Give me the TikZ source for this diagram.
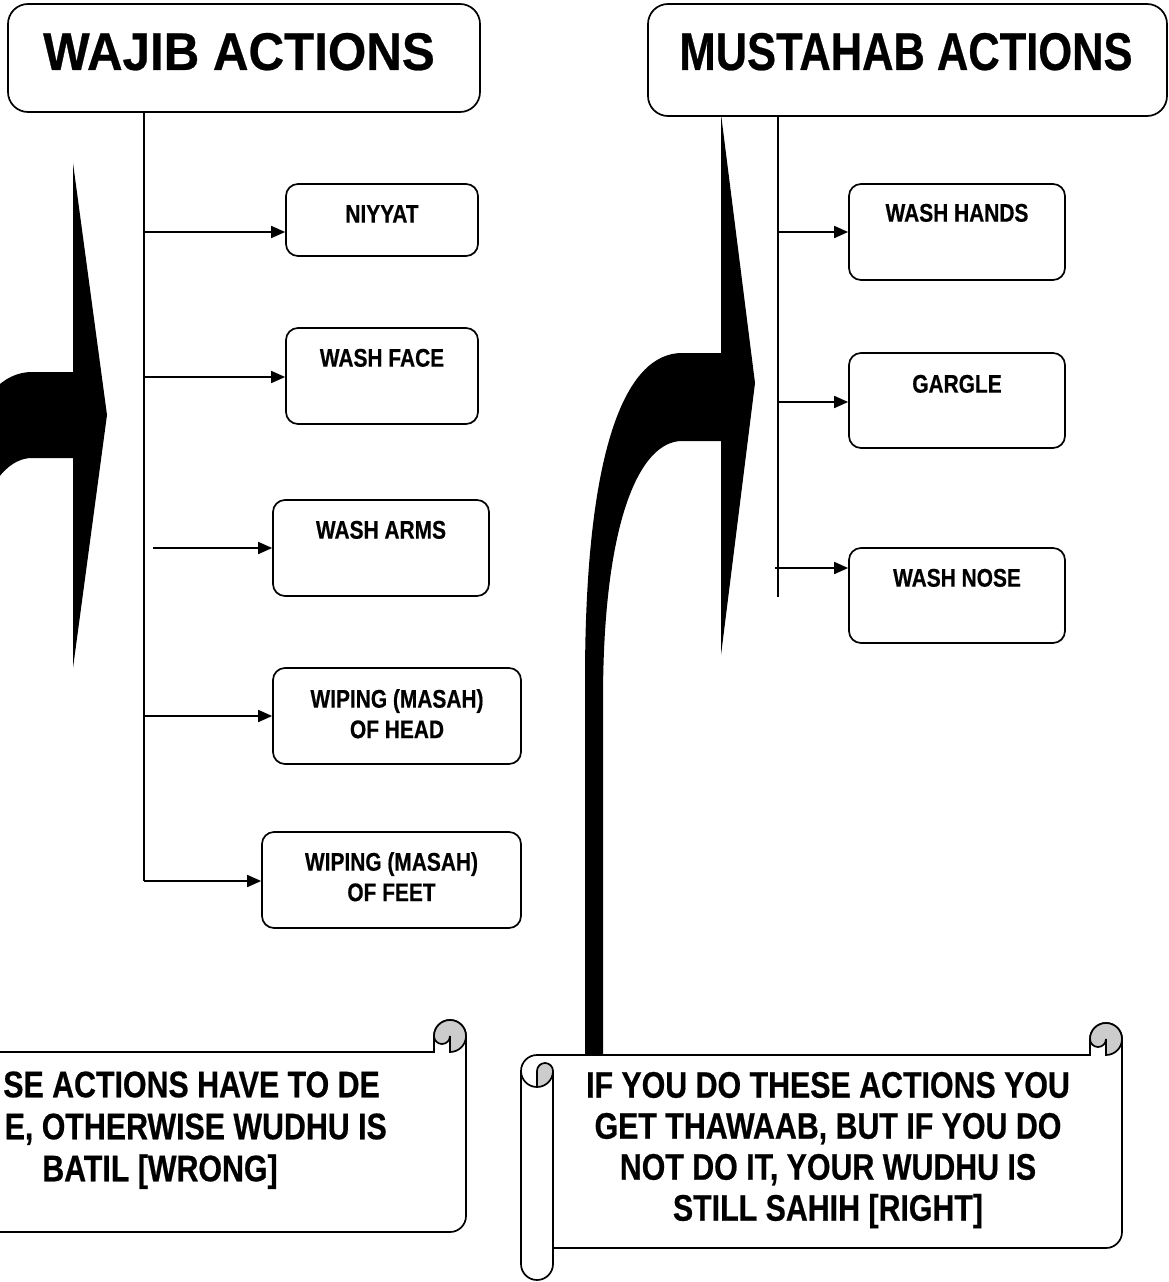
\documentclass[tikz,border=0pt]{standalone}
\usepackage{fontspec}
\setmainfont{Liberation Sans}[FakeStretch=0.82, BoldFeatures={FakeBold=0.5}]
\newfontfamily\widefont{Liberation Sans}[FakeStretch=0.93, BoldFeatures={FakeBold=0.5}]
\usetikzlibrary{arrows.meta,calc}
\begin{document}
\begin{tikzpicture}[x=1pt,y=1pt,
  line/.style={line width=1.7pt, draw=black},
  arr/.style={line width=1.7pt, -{Triangle[length=14pt,width=12pt]}},
  titlebox/.style={draw, line width=1.7pt, rounded corners=20pt, fill=white, inner sep=0pt},
  actbox/.style={draw, line width=1.7pt, rounded corners=12pt, fill=white, inner sep=0pt},
  titletext/.style={font=\fontsize{53}{60}\selectfont\bfseries, inner sep=0pt, text height=37.9pt, text depth=0pt},
  acttext/.style={font=\fontsize{25.5}{30.5}\selectfont\bfseries, inner sep=0pt, text height=18.3pt, anchor=north, align=flush center},
  scrolltext/.style={font=\fontsize{37}{41}\selectfont\bfseries, inner sep=0pt, text height=26.5pt, text depth=0pt},
  brace/.style={fill=black},
  scroll/.style={draw, line width=1.7pt, fill=white},
  curl/.style={draw, line width=1.7pt, fill=black!20}
]
\useasboundingbox (0,0) rectangle (1169,-1282);
\fill[white] (0,0) rectangle (1169,-1282);
\clip (0,0) rectangle (1169,-1282);

% ---- braces
\fill[brace] (73,-163) -- (107,-415) -- (73,-668) -- (73,-458) -- (32,-458)
  .. controls (-10,-458) and (-47,-539) .. (-47,-719) -- (-47,-950) -- (-65,-950) -- (-65,-699)
  .. controls (-65,-469) and (-25,-372) .. (32,-372) -- (73,-372) -- cycle;
\fill[brace] (721,-114) -- (755,-383) -- (721,-655) -- (721,-441) -- (682,-441)
  .. controls (640,-441) and (603,-520) .. (603,-700) -- (603,-1060) -- (585,-1060) -- (585,-680)
  .. controls (585,-450) and (625,-353) .. (682,-353) -- (721,-353) -- cycle;

% ---- title boxes
\node[titlebox, minimum width=472pt, minimum height=108pt] (wajib) at (244,-58) {};
\node[titletext, font=\fontsize{53}{60}\selectfont\widefont\bfseries] (wajibT) at (239,-51) {WAJIB ACTIONS};
\node[titlebox, minimum width=519pt, minimum height=112pt] (must) at (907.5,-60) {};
\node[titletext] (mustT) at (906,-51) {MUSTAHAB ACTIONS};

% ---- left action boxes
\node[actbox, minimum width=192pt, minimum height=72pt] (niyyat) at (382,-220) {};
\node[actbox, minimum width=192pt, minimum height=96pt] (face) at (382,-376) {};
\node[actbox, minimum width=216pt, minimum height=96pt] (arms) at (381,-548) {};
\node[actbox, minimum width=248pt, minimum height=96pt] (head) at (397,-716) {};
\node[actbox, minimum width=259pt, minimum height=96pt] (feet) at (391.5,-880) {};
% ---- right action boxes
\node[actbox, minimum width=216pt, minimum height=96pt] (hands) at (957,-232) {};
\node[actbox, minimum width=216pt, minimum height=95pt] (gargle) at (957,-400.5) {};
\node[actbox, minimum width=216pt, minimum height=95pt] (nose) at (957,-595.5) {};

\node[acttext, text depth=0pt] (niyyatT) at ([yshift=-21pt]niyyat.north) {NIYYAT};
\node[acttext, text depth=0pt] (faceT) at ([yshift=-21pt]face.north) {WASH FACE};
\node[acttext, text depth=0pt] (armsT) at ([yshift=-21pt]arms.north) {WASH ARMS};
\node[acttext, text width=240pt] (headT) at ([yshift=-22pt]head.north) {WIPING (MASAH)\\OF HEAD};
\node[acttext, text width=250pt] (feetT) at ([yshift=-21pt]feet.north) {WIPING (MASAH)\\OF FEET};
\node[acttext, text depth=0pt] (handsT) at ([yshift=-20pt]hands.north) {WASH HANDS};
\node[acttext, text depth=0pt] (gargleT) at ([yshift=-22pt]gargle.north) {GARGLE};
\node[acttext, text depth=0pt] (noseT) at ([yshift=-21pt]nose.north) {WASH NOSE};

% ---- trunks
\coordinate (tLbot) at (144,-881);
\coordinate (tRbot) at (778,-597);
\draw[line] (tLbot |- wajib.south) -- (tLbot);
\draw[line] (tRbot |- must.south) -- (tRbot);

% ---- connectors
\coordinate (a1) at (144,-232);
\coordinate (a2) at (144,-377);
\coordinate (a3) at (153,-548);
\coordinate (a4) at (144,-716);
\coordinate (a5) at (144,-881);
\coordinate (b1) at (778,-232);
\coordinate (b2) at (778,-402);
\coordinate (b3) at (775,-568);
\draw[arr] (a1) -- (a1 -| niyyat.west);
\draw[arr] (a2) -- (a2 -| face.west);
\draw[arr] (a3) -- (a3 -| arms.west);
\draw[arr] (a4) -- (a4 -| head.west);
\draw[arr] (a5) -- (a5 -| feet.west);
\draw[arr] (b1) -- (b1 -| hands.west);
\draw[arr] (b2) -- (b2 -| gargle.west);
\draw[arr] (b3) -- (b3 -| nose.west);

% ---- left scroll (r=466, t=1020, b=1264, c=32)
\draw[scroll] (-142,-1052) -- (434,-1052) -- (434,-1036) arc[start angle=180,end angle=0,radius=16]
  -- (466,-1216) arc[start angle=0,end angle=-90,radius=16] -- (-126,-1232) -- (-126,-1248)
  arc[start angle=0,end angle=-180,radius=16] -- (-158,-1068) arc[start angle=180,end angle=90,radius=16] -- cycle;
\draw[curl] (434,-1036) arc[start angle=180,end angle=0,radius=16] arc[start angle=0,end angle=-90,radius=16]
  -- (450,-1036) arc[start angle=0,end angle=-180,radius=8] -- cycle;

% ---- right scroll (l=521, r=1122, t=1023, b=1280, c=32)
\draw[scroll] (537,-1055) -- (1090,-1055) -- (1090,-1039) arc[start angle=180,end angle=0,radius=16]
  -- (1122,-1232) arc[start angle=0,end angle=-90,radius=16] -- (553,-1248) -- (553,-1264)
  arc[start angle=0,end angle=-180,radius=16] -- (521,-1071) arc[start angle=180,end angle=90,radius=16] -- cycle;
\draw[curl] (1090,-1039) arc[start angle=180,end angle=0,radius=16] arc[start angle=0,end angle=-90,radius=16]
  -- (1106,-1039) arc[start angle=0,end angle=-180,radius=8] -- cycle;
\draw[curl] (537,-1071) arc[start angle=180,end angle=0,radius=8] arc[start angle=0,end angle=-90,radius=16] -- cycle;
\draw[line] (521,-1071) arc[start angle=180,end angle=270,radius=16];
\draw[line] (553,-1071) -- (553,-1264);

% ---- scroll texts
\node[scrolltext, anchor=east] (wl1) at (380,-1084) {SE ACTIONS HAVE TO DE};
\node[scrolltext, anchor=east] (wl2) at (387,-1126) {E, OTHERWISE WUDHU IS};
\node[scrolltext] (wl3) at (160,-1168) {BATIL [WRONG]};
\node[scrolltext, text depth=100pt, text width=580pt, align=flush center, anchor=north] (mt) at (828,-1071)
  {IF YOU DO THESE ACTIONS YOU\\GET THAWAAB, BUT IF YOU DO\\NOT DO IT, YOUR WUDHU IS\\STILL SAHIH [RIGHT]};
\end{tikzpicture}
\end{document}
